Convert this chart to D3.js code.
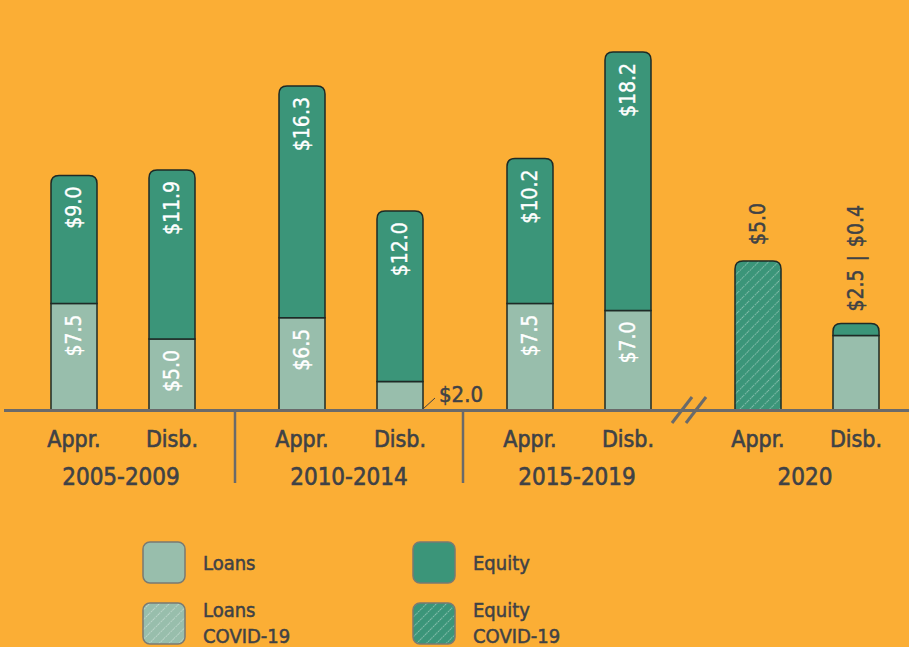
<!DOCTYPE html>
<html><head><meta charset="utf-8">
<script src="https://cdn.jsdelivr.net/npm/d3@7"></script>
<style>
html,body{margin:0;padding:0;background:#FBAE35;}
svg{display:block;}
text{font-family:"DejaVu Sans Condensed","Liberation Sans Narrow","Roboto Condensed",sans-serif;}
</style></head>
<body>
<svg id="c" width="909" height="647"></svg>
<script>
const groups = ["2005-2009","2010-2014","2015-2019","2020"];
const kinds = ["Appr.","Disb."];
const barGroup = ["2005-2009","2005-2009","2010-2014","2010-2014","2015-2019","2015-2019","2020","2020"];
const barKind = ["Appr.","Disb.","Appr.","Disb.","Appr.","Disb.","Appr.","Disb."];
const loans = [7.5, 5.0, 6.5, 2.0, 7.5, 7.0, 0, 2.5];
const equity = [9.0, 11.9, 16.3, 12.0, 10.2, 18.2, 0, 0.4];
const equityCovid = [0, 0, 0, 0, 0, 0, 5.0, 0];
const loanLabels = ["$7.5","$5.0","$6.5","$2.0","$7.5","$7.0","",""];
const equityLabels = ["$9.0","$11.9","$16.3","$12.0","$10.2","$18.2","",""];
const legendItems = [["Loans"],["Equity"],["Loans","COVID-19"],["Equity","COVID-19"]];

const C = {bg:"#FBAE35", loan:"#98BEAC", eq:"#3B9579", ink:"#3F4246", axis:"#6A6A6A", edge:"#1E2A26"};
const svg = d3.select("#c");
svg.append("rect").attr("width",909).attr("height",647).attr("fill",C.bg);

const defs = svg.append("defs");
function hatch(id, base){
  const p = defs.append("pattern").attr("id",id).attr("patternUnits","userSpaceOnUse")
    .attr("width",7).attr("height",7).attr("patternTransform","rotate(45)");
  p.append("rect").attr("width",7).attr("height",7).attr("fill",base);
  p.append("line").attr("x1",0).attr("y1",0).attr("x2",0).attr("y2",7)
    .attr("stroke","#ffffff").attr("stroke-opacity",0.65).attr("stroke-width",1.2)
    .attr("stroke-dasharray","1.4 1.1");
}
hatch("hEq", C.eq); hatch("hLoan", C.loan);

const base = 410;
const xg = d3.scaleBand().domain(groups).range([9, 921]);
const xk = d3.scalePoint().domain(kinds).range([65, 163]);
const yMain = d3.scaleLinear().domain([0, 25.2]).range([base, 52]);
const y2020 = d3.scaleLinear().domain([0, 5]).range([base, 261]);
const bw = 46, r = 8;
const cx = i => xg(barGroup[i]) + xk(barKind[i]);
const ys = i => barGroup[i] === "2020" ? y2020 : yMain;

function topRounded(x0, y0, w, y1){
  return `M${x0},${y1}V${y0+r}Q${x0},${y0} ${x0+r},${y0}H${x0+w-r}Q${x0+w},${y0} ${x0+w},${y0+r}V${y1}Z`;
}
function ink(sel, col, sw){ return sel.attr("fill", col).attr("stroke", col).attr("stroke-width", sw); }

const bars = svg.append("g");
loans.forEach((lv, i) => {
  const y = ys(i);
  const x0 = cx(i) - bw/2;
  const segs = [];
  if (lv > 0) segs.push({v0:0, v1:lv, fill:C.loan});
  if (equity[i] > 0) segs.push({v0:lv, v1:lv+equity[i], fill:C.eq});
  if (equityCovid[i] > 0) segs.push({v0:lv+equity[i], v1:lv+equity[i]+equityCovid[i], fill:"url(#hEq)"});
  segs.forEach((s, k) => {
    const yt = y(s.v1), yb = y(s.v0);
    if (k === segs.length - 1) {
      bars.append("path").attr("d", topRounded(x0, yt, bw, yb))
        .attr("fill", s.fill).attr("stroke", C.edge).attr("stroke-width", 1.5);
    } else {
      bars.append("rect").attr("x", x0).attr("y", yt).attr("width", bw).attr("height", yb - yt)
        .attr("fill", s.fill).attr("stroke", C.edge).attr("stroke-width", 1.5);
    }
  });
  const lab = (txt, v1) => {
    if (!txt) return;
    ink(bars.append("text").attr("transform", `translate(${cx(i)},${y(v1) + 11}) rotate(-90)`)
      .attr("text-anchor","end").attr("dominant-baseline","central")
      .attr("font-size",21).text(txt), "#fff", 0.35);
  };
  if (lv >= 3) lab(loanLabels[i], lv);
  lab(equityLabels[i], lv + equity[i]);
});

{
  const i = 3;
  const xr = cx(i) + bw/2;
  bars.append("line").attr("x1", xr).attr("y1", base - 1).attr("x2", xr + 12).attr("y2", base - 12)
    .attr("stroke", C.ink).attr("stroke-width", 1);
  ink(bars.append("text").attr("x", xr + 16).attr("y", base - 8)
    .attr("font-size", 22).text(loanLabels[i]), C.ink, 0.5);
}

{
  const i = 6, tot = loans[i] + equity[i] + equityCovid[i];
  ink(bars.append("text").attr("transform", `translate(${cx(i)},${y2020(tot) - 16}) rotate(-90)`)
    .attr("text-anchor","start").attr("dominant-baseline","central")
    .attr("font-size", 21).text("$" + equityCovid[i].toFixed(1)), C.ink, 0.5);
  const j = 7, tot2 = loans[j] + equity[j];
  const t = ink(bars.append("text").attr("transform", `translate(${cx(j)},${y2020(tot2) - 12}) rotate(-90)`)
    .attr("text-anchor","start").attr("dominant-baseline","central")
    .attr("font-size", 21), C.ink, 0.5);
  t.append("tspan").text("$" + loans[j].toFixed(1));
  t.append("tspan").attr("dx", 8).text("|");
  t.append("tspan").attr("dx", 8).text("$" + equity[j].toFixed(1));
}

svg.append("line").attr("x1", 4).attr("x2", 909).attr("y1", base + 0.5).attr("y2", base + 0.5)
  .attr("stroke", C.axis).attr("stroke-width", 3);

for (let g = 1; g < 3; g++) {
  const xd = xg(groups[g]) - 2;
  svg.append("line").attr("x1", xd).attr("x2", xd).attr("y1", base).attr("y2", 483)
    .attr("stroke", C.axis).attr("stroke-width", 2.5);
}
{
  const xmid = (cx(5) + cx(6)) / 2 - 4;
  [-7, 7].forEach(o => {
    svg.append("line").attr("x1", xmid + o - 10).attr("y1", base + 13).attr("x2", xmid + o + 10).attr("y2", base - 13)
      .attr("stroke", C.axis).attr("stroke-width", 3);
  });
}

loans.forEach((_, i) => {
  ink(svg.append("text").attr("x", cx(i)).attr("y", 447).attr("text-anchor","middle")
    .attr("font-size", 23).text(barKind[i]), C.ink, 0.6);
});
groups.forEach(g => {
  ink(svg.append("text").attr("x", xg(g) + xg.bandwidth()/2 - 2).attr("y", 485).attr("text-anchor","middle")
    .attr("font-size", 24).text(g), C.ink, 0.6);
});

const lx = [143, 413], ly = [542, 603];
const lfill = [C.loan, C.eq, "url(#hLoan)", "url(#hEq)"];
legendItems.forEach((lines, k) => {
  const x = lx[k % 2], y = ly[Math.floor(k / 2)];
  svg.append("rect").attr("x", x).attr("y", y).attr("width", 42).attr("height", 41).attr("rx", 7)
    .attr("fill", lfill[k]).attr("stroke", "#7A7A72").attr("stroke-width", 1.5);
  lines.forEach((ln, m) => {
    ink(svg.append("text").attr("x", x + 60).attr("y", lines.length === 1 ? y + 28 : y + 14 + m * 26)
      .attr("font-size", 20).text(ln), C.ink, 0.5);
  });
});
</script>
</body></html>
